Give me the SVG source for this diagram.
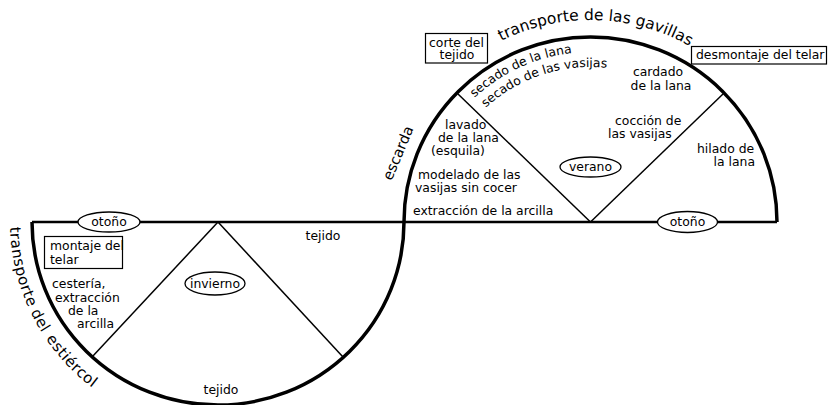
<svg xmlns="http://www.w3.org/2000/svg" width="833" height="405" viewBox="0 0 833 405">
<style>
  text { font-family: "DejaVu Sans", "Liberation Sans", sans-serif; font-size: 12.4px; fill: #000; }
  .mid { text-anchor: middle; }
  .end { text-anchor: end; }
  .big { font-size: 15.5px; }
  .curv { font-size: 15px; letter-spacing: 0.5px; }
  .arc { fill: none; stroke: #000; stroke-width: 3.5; }
  .axis { fill: none; stroke: #000; stroke-width: 2.5; }
  .div { fill: none; stroke: #000; stroke-width: 1.5; }
  .oval { fill: #fff; stroke: #000; stroke-width: 1.3; }
  .box { fill: #fff; stroke: #000; stroke-width: 1.2; }
</style>
<defs>
  <path id="pGavillas" d="M 388.5 222 A 202 202 0 0 1 792.5 222"/>
  <path id="pEstiercol" d="M 10 222 A 208 208 0 0 0 218 430"/>
  <path id="pSecado1" d="M 474.6 97.7 A 170 170 0 0 1 675.5 74.8"/>
  <path id="pSecado2" d="M 485.8 107.7 A 155 155 0 0 1 668 87.8"/>
</defs>
<rect width="833" height="405" fill="#fff"/>

<g id="frame">
  <path class="arc" d="M 32 222 A 186 183 0 0 0 404 222"/>
  <path class="arc" d="M 404 222 A 186.5 185 0 0 1 777 222"/>
  <line class="axis" x1="32" y1="222" x2="777" y2="222"/>
</g>

<g id="connectors">
  <line class="div" x1="218" y1="222" x2="92" y2="357"/>
  <line class="div" x1="218" y1="222" x2="343" y2="357"/>
  <line class="div" x1="590.5" y1="222" x2="458" y2="94"/>
  <line class="div" x1="590.5" y1="222" x2="723" y2="94"/>
</g>

<g id="otono-izq">
  <ellipse class="oval" cx="109" cy="222" rx="31" ry="10"/>
  <text class="mid" x="109" y="226">otoño</text>
</g>
<g id="otono-der">
  <ellipse class="oval" cx="687.5" cy="222" rx="30" ry="10.5"/>
  <text class="mid" x="687.5" y="226">otoño</text>
</g>
<g id="invierno">
  <ellipse class="oval" cx="215" cy="283.5" rx="30" ry="11.5"/>
  <text class="mid" x="215" y="287.5">invierno</text>
</g>
<g id="verano">
  <ellipse class="oval" cx="590.5" cy="167" rx="30.5" ry="10"/>
  <text class="mid" x="590.5" y="171">verano</text>
</g>

<g id="montaje">
  <rect class="box" x="44.5" y="236.5" width="78" height="32"/>
  <text x="50" y="250">montaje del</text>
  <text x="50" y="264">telar</text>
</g>
<g id="corte">
  <rect class="box" x="425.5" y="33.5" width="62" height="29.5"/>
  <text x="429" y="47">corte del</text>
  <text class="mid" x="457" y="59">tejido</text>
</g>
<g id="desmontaje">
  <rect class="box" x="691.5" y="46.5" width="135" height="17.5"/>
  <text x="696" y="59">desmontaje del telar</text>
</g>

<g id="cesteria">
  <text x="52" y="288">cestería,</text>
  <text x="55" y="302">extracción</text>
  <text x="68" y="315">de la</text>
  <text x="77" y="328">arcilla</text>
</g>
<g id="tejido-1">
  <text class="mid" x="323" y="240">tejido</text>
</g>
<g id="tejido-2">
  <text class="mid" x="221" y="394">tejido</text>
</g>
<g id="estiercol">
  <text class="curv"><textPath href="#pEstiercol" startOffset="5">transporte</textPath></text>
  <text class="curv"><textPath href="#pEstiercol" startOffset="93">del</textPath></text>
  <text class="curv"><textPath href="#pEstiercol" startOffset="124">estiércol</textPath></text>
</g>
<g id="escarda">
  <text class="mid" style="font-size:14.5px" transform="translate(398 153) rotate(-67)" x="0" y="5">escarda</text>
</g>
<g id="gavillas">
  <text class="big mid"><textPath href="#pGavillas" startOffset="322.6">transporte de las gavillas</textPath></text>
</g>
<g id="secado">
  <text><textPath href="#pSecado1">secado de la lana</textPath></text>
  <text><textPath href="#pSecado2">secado de las vasijas</textPath></text>
</g>
<g id="lavado">
  <text x="445" y="129">lavado</text>
  <text x="438" y="142">de la lana</text>
  <text x="431" y="155">(esquila)</text>
</g>
<g id="modelado">
  <text x="418" y="179">modelado de las</text>
  <text x="415" y="192">vasijas sin cocer</text>
</g>
<g id="extraccion">
  <text x="413" y="215">extracción de la arcilla</text>
</g>
<g id="cardado">
  <text class="mid" x="658" y="76">cardado</text>
  <text class="mid" x="661" y="90">de la lana</text>
</g>
<g id="coccion">
  <text x="615" y="125">cocción de</text>
  <text x="608" y="138">las vasijas</text>
</g>
<g id="hilado">
  <text x="697" y="153">hilado de</text>
  <text class="end" x="755" y="166">la lana</text>
</g>
</svg>
